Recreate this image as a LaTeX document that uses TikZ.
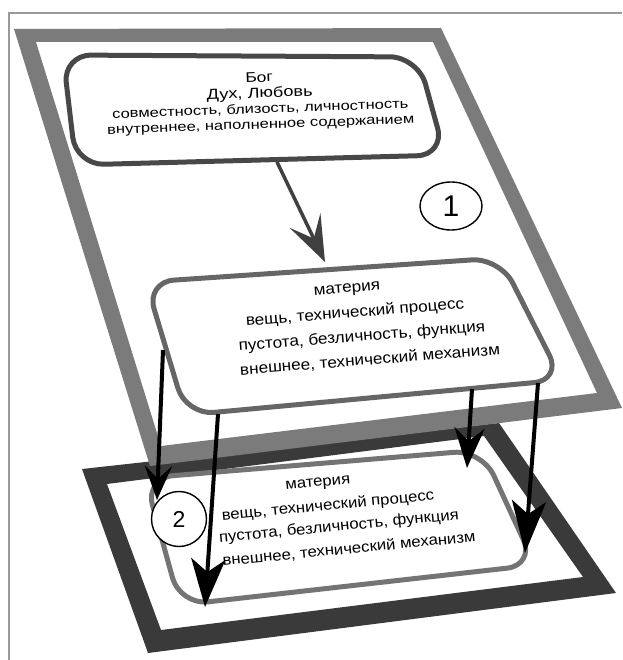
\documentclass[tikz,border=0pt]{standalone}
\usepackage{fontspec}
\setmainfont{Liberation Sans}
\newfontfamily\wideface[FakeStretch=1.25]{Liberation Sans}
\newfontfamily\broadface[FakeStretch=1.1]{Liberation Sans}
\usetikzlibrary{arrows.meta, shapes.geometric}
\definecolor{framegray}{HTML}{9A9A9A}
\definecolor{lowgray}{HTML}{3A3A3A}
\definecolor{upgray}{HTML}{7B7B7B}
\definecolor{bogline}{HTML}{484848}
\definecolor{upcard}{HTML}{666666}
\definecolor{lowcard}{HTML}{747474}
\definecolor{leadgray}{HTML}{404040}

\begin{document}
\begin{tikzpicture}[x=1pt, y=-1pt,
    plate/.style={fill=#1, even odd rule},
    card/.style={draw=#1, line width=5pt, fill=white, rounded corners=28pt},
    upline/.style={rotate=4.5, inner sep=0pt, font=\broadface\fontsize{15.6}{18}\selectfont},
    lowline/.style={rotate=5.5, inner sep=0pt, font=\broadface\fontsize{15.2}{17}\selectfont},
    num/.style={draw, line width=1.4pt, inner sep=0pt},
    drop/.style 2 args={line width=4pt, -{Stealth[length=#1, width=#2, inset=13pt]}},
    lead/.style={draw=leadgray, line width=3.5pt, -{Stealth[length=46pt, width=34pt, inset=20pt]}}]
    \useasboundingbox (0,0) rectangle (622,660);

    \draw[framegray, line width=1.5pt] (9,660) -- (9,13) -- (622,13);

    % plane 2
    \fill[plate=lowgray] (82,469) -- (499,423) -- (616,593) -- (148,653) -- cycle
        (107,484) -- (484,436) -- (583,577) -- (161,630) -- cycle;
    \draw[card=lowcard] (145,478) -- (482,450) -- (535,565) -- (180,605) -- cycle;
    \node[lowline] (low0) at (318,484) {материя};
    \node[lowline] (low1) at (328,506) {вещь, технический процесс};
    \node[lowline] (low2) at (339,527) {пустота, безличность, функция};
    \node[lowline] (low3) at (349,549) {внешнее, технический механизм};
    \node[num, circle, fill=white, minimum size=55pt, font=\fontsize{23}{23}\selectfont] (two) at (179,519) {2};

    % plane 1
    \fill[white] (36,42) -- (433,42) -- (597,393) -- (161,446) -- cycle;
    \fill[plate=upgray] (14,29) -- (441,28) -- (622,408) -- (150,466) -- cycle
        (36,42) -- (433,42) -- (597,393) -- (161,446) -- cycle;
    \draw[card=bogline] (63,55) -- (418,57) -- (445,155) -- (76,165) -- cycle;
    \draw[card=upcard] (146,282) -- (500,258) -- (562,380) -- (186,415) -- cycle;
    \node[rotate=2, align=center, inner sep=0pt, font=\wideface\fontsize{13.2}{15.5}\selectfont] (bog) at (260,102)
        {{\fontsize{14}{15.5}\selectfont Бог}\\{\fontsize{14.5}{15.5}\selectfont Дух, Любовь}\\
         совместность, близость, личностность\\внутреннее, наполненное содержанием};
    \node[upline] (up0) at (347,290) {материя};
    \node[upline] (up1) at (355,313) {вещь, технический процесс};
    \node[upline] (up2) at (362,337) {пустота, безличность, функция};
    \node[upline] (up3) at (370,360) {внешнее, технический механизм};
    \node[num, ellipse, minimum width=62pt, minimum height=48pt, font=\fontsize{30}{30}\selectfont] (one) at (451,206) {1};

    \coordinate (bogfoot) at (277,162);
    \coordinate (mattop) at (325,262);
    \coordinate (a1) at (163,350);
    \coordinate (a2) at (157,500);
    \coordinate (b1) at (218,414);
    \coordinate (b2) at (205,607);
    \coordinate (c1) at (472,389);
    \coordinate (c2) at (467,468);
    \coordinate (d1) at (538,383);
    \coordinate (d2) at (525,553);

    \draw[lead] (bogfoot) -- (mattop);
    \draw[drop={34pt}{27pt}] (a1) -- (a2);
    \draw[drop={48pt}{34pt}] (b1) -- (b2);
    \draw[drop={40pt}{30pt}] (c1) -- (c2);
    \draw[drop={52pt}{34pt}] (d1) -- (d2);
\end{tikzpicture}
\end{document}
